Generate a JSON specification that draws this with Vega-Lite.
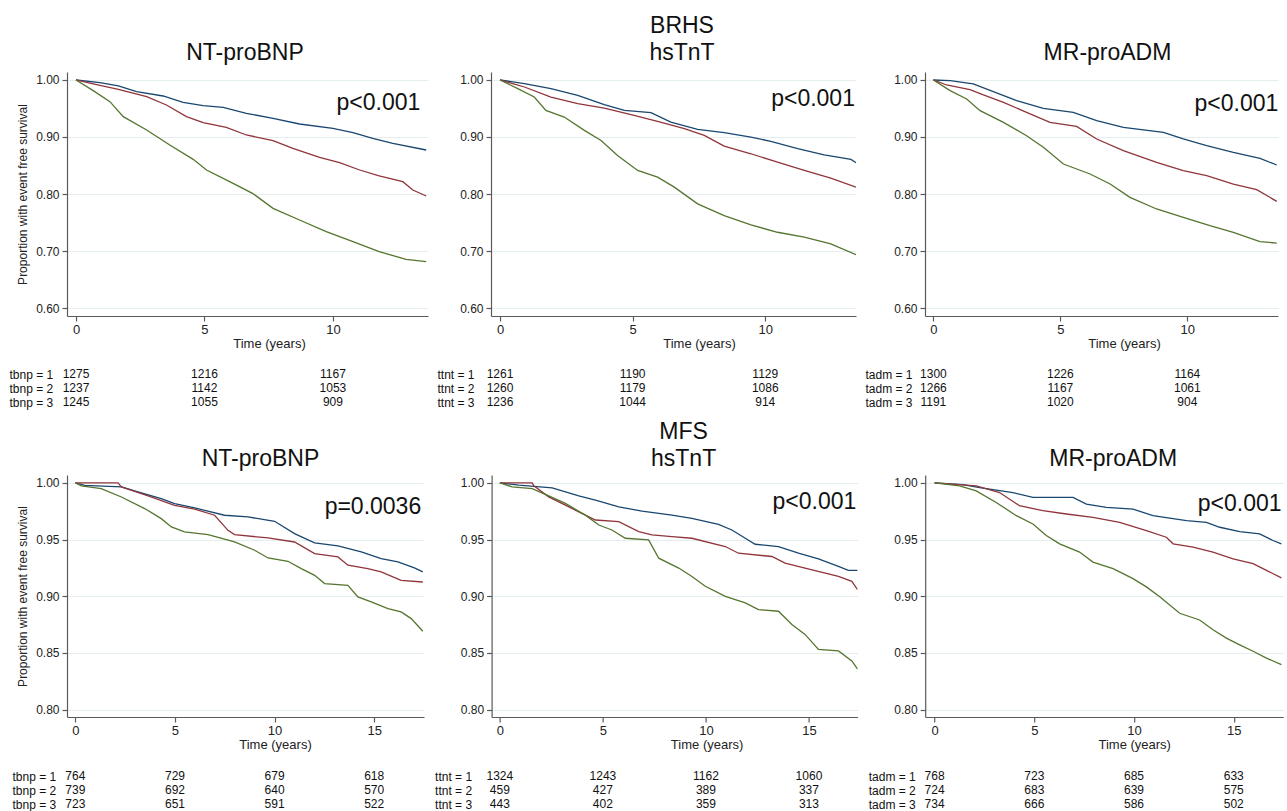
{
"$schema": "https://vega.github.io/schema/vega-lite/v6.json",
"background": "white",
"padding": {"left": 9, "top": 15, "right": 0, "bottom": 0},
"config": {
  "view": {"stroke": null},
  "font": "Liberation Sans",
  "axis": {"labelColor": "#222", "titleColor": "#222", "domainColor": "#5a5a5a", "tickColor": "#5a5a5a", "gridColor": "#e4eef0", "gridWidth": 1.2, "titleFontWeight": "normal", "domainWidth": 1.2, "tickWidth": 1.2, "labelFont": "Liberation Sans", "titleFont": "Liberation Sans"},
  "title": {"fontSize": 23, "fontWeight": "normal", "color": "#111", "font": "Liberation Sans"}
},
"datasets": {
"km": [
{"p":1,"g":1,"t":0,"s":1},{"p":1,"g":1,"t":0.93,"s":0.9953},{"p":1,"g":1,"t":1.65,"s":0.9895},{"p":1,"g":1,"t":2.36,"s":0.9795},{"p":1,"g":1,"t":3.39,"s":0.9719},{"p":1,"g":1,"t":4.17,"s":0.9608},{"p":1,"g":1,"t":4.95,"s":0.955},{"p":1,"g":1,"t":5.73,"s":0.952},{"p":1,"g":1,"t":6.63,"s":0.9415},{"p":1,"g":1,"t":7.67,"s":0.9327},{"p":1,"g":1,"t":8.7,"s":0.9228},{"p":1,"g":1,"t":10.0,"s":0.9152},{"p":1,"g":1,"t":10.78,"s":0.9076},{"p":1,"g":1,"t":11.55,"s":0.8977},{"p":1,"g":1,"t":12.33,"s":0.8889},{"p":1,"g":1,"t":13.63,"s":0.8772},
{"p":1,"g":2,"t":0,"s":1},{"p":1,"g":2,"t":0.67,"s":0.993},{"p":1,"g":2,"t":1.65,"s":0.9836},{"p":1,"g":2,"t":2.75,"s":0.9708},{"p":1,"g":2,"t":3.52,"s":0.9561},{"p":1,"g":2,"t":4.3,"s":0.9357},{"p":1,"g":2,"t":4.95,"s":0.9251},{"p":1,"g":2,"t":5.85,"s":0.917},{"p":1,"g":2,"t":6.63,"s":0.9035},{"p":1,"g":2,"t":7.67,"s":0.8936},{"p":1,"g":2,"t":8.44,"s":0.8801},{"p":1,"g":2,"t":9.48,"s":0.8643},{"p":1,"g":2,"t":10.26,"s":0.855},{"p":1,"g":2,"t":11.04,"s":0.8421},{"p":1,"g":2,"t":11.8,"s":0.8316},{"p":1,"g":2,"t":12.72,"s":0.8216},{"p":1,"g":2,"t":13.11,"s":0.807},{"p":1,"g":2,"t":13.63,"s":0.7965},
{"p":1,"g":3,"t":0,"s":1},{"p":1,"g":3,"t":0.67,"s":0.9813},{"p":1,"g":3,"t":1.32,"s":0.962},{"p":1,"g":3,"t":1.84,"s":0.9357},{"p":1,"g":3,"t":2.75,"s":0.9123},{"p":1,"g":3,"t":3.65,"s":0.886},{"p":1,"g":3,"t":4.56,"s":0.8608},{"p":1,"g":3,"t":5.08,"s":0.8421},{"p":1,"g":3,"t":5.98,"s":0.8216},{"p":1,"g":3,"t":6.87,"s":0.8012},{"p":1,"g":3,"t":7.67,"s":0.7749},{"p":1,"g":3,"t":8.7,"s":0.7544},{"p":1,"g":3,"t":9.74,"s":0.7339},{"p":1,"g":3,"t":10.78,"s":0.7164},{"p":1,"g":3,"t":11.8,"s":0.6988},{"p":1,"g":3,"t":12.85,"s":0.6854},{"p":1,"g":3,"t":13.63,"s":0.6813},
{"p":2,"g":1,"t":0,"s":1},{"p":2,"g":1,"t":0.92,"s":0.9936},{"p":2,"g":1,"t":1.92,"s":0.9848},{"p":2,"g":1,"t":2.93,"s":0.9731},{"p":2,"g":1,"t":3.93,"s":0.9567},{"p":2,"g":1,"t":4.69,"s":0.9467},{"p":2,"g":1,"t":5.69,"s":0.9426},{"p":2,"g":1,"t":6.44,"s":0.9262},{"p":2,"g":1,"t":7.45,"s":0.9133},{"p":2,"g":1,"t":8.45,"s":0.9075},{"p":2,"g":1,"t":9.46,"s":0.8999},{"p":2,"g":1,"t":10.21,"s":0.8922},{"p":2,"g":1,"t":11.22,"s":0.8794},{"p":2,"g":1,"t":12.22,"s":0.8688},{"p":2,"g":1,"t":13.23,"s":0.8606},{"p":2,"g":1,"t":13.42,"s":0.8548},
{"p":2,"g":2,"t":0,"s":1},{"p":2,"g":2,"t":0.92,"s":0.9877},{"p":2,"g":2,"t":1.92,"s":0.9701},{"p":2,"g":2,"t":2.93,"s":0.9584},{"p":2,"g":2,"t":3.93,"s":0.9508},{"p":2,"g":2,"t":4.94,"s":0.9391},{"p":2,"g":2,"t":5.94,"s":0.9274},{"p":2,"g":2,"t":6.95,"s":0.9145},{"p":2,"g":2,"t":7.7,"s":0.9028},{"p":2,"g":2,"t":8.45,"s":0.884},{"p":2,"g":2,"t":9.46,"s":0.8706},{"p":2,"g":2,"t":10.46,"s":0.8559},{"p":2,"g":2,"t":11.47,"s":0.8413},{"p":2,"g":2,"t":12.47,"s":0.8278},{"p":2,"g":2,"t":13.42,"s":0.812},
{"p":2,"g":3,"t":0,"s":1},{"p":2,"g":3,"t":0.67,"s":0.9848},{"p":2,"g":3,"t":1.29,"s":0.9701},{"p":2,"g":3,"t":1.73,"s":0.9467},{"p":2,"g":3,"t":2.42,"s":0.935},{"p":2,"g":3,"t":3.18,"s":0.9116},{"p":2,"g":3,"t":3.81,"s":0.894},{"p":2,"g":3,"t":4.43,"s":0.8676},{"p":2,"g":3,"t":5.19,"s":0.8413},{"p":2,"g":3,"t":5.94,"s":0.8296},{"p":2,"g":3,"t":6.57,"s":0.812},{"p":2,"g":3,"t":7.45,"s":0.7827},{"p":2,"g":3,"t":8.45,"s":0.7622},{"p":2,"g":3,"t":9.46,"s":0.7458},{"p":2,"g":3,"t":10.46,"s":0.7329},{"p":2,"g":3,"t":11.47,"s":0.7242},{"p":2,"g":3,"t":12.47,"s":0.7124},{"p":2,"g":3,"t":13.42,"s":0.6937},
{"p":3,"g":1,"t":0,"s":1},{"p":3,"g":1,"t":0.66,"s":0.9988},{"p":3,"g":1,"t":1.57,"s":0.993},{"p":3,"g":1,"t":2.36,"s":0.9795},{"p":3,"g":1,"t":3.28,"s":0.9637},{"p":3,"g":1,"t":4.33,"s":0.9503},{"p":3,"g":1,"t":5.51,"s":0.9433},{"p":3,"g":1,"t":6.43,"s":0.9287},{"p":3,"g":1,"t":7.48,"s":0.917},{"p":3,"g":1,"t":9.06,"s":0.9082},{"p":3,"g":1,"t":9.84,"s":0.8965},{"p":3,"g":1,"t":10.76,"s":0.8848},{"p":3,"g":1,"t":11.81,"s":0.8731},{"p":3,"g":1,"t":12.86,"s":0.8626},{"p":3,"g":1,"t":13.52,"s":0.8509},
{"p":3,"g":2,"t":0,"s":1},{"p":3,"g":2,"t":0.52,"s":0.9912},{"p":3,"g":2,"t":1.44,"s":0.983},{"p":3,"g":2,"t":1.97,"s":0.9737},{"p":3,"g":2,"t":2.76,"s":0.9608},{"p":3,"g":2,"t":3.67,"s":0.9433},{"p":3,"g":2,"t":4.59,"s":0.9257},{"p":3,"g":2,"t":5.64,"s":0.9187},{"p":3,"g":2,"t":6.43,"s":0.8965},{"p":3,"g":2,"t":7.48,"s":0.876},{"p":3,"g":2,"t":8.79,"s":0.8556},{"p":3,"g":2,"t":9.84,"s":0.8409},{"p":3,"g":2,"t":10.76,"s":0.8322},{"p":3,"g":2,"t":11.81,"s":0.8175},{"p":3,"g":2,"t":12.73,"s":0.8076},{"p":3,"g":2,"t":13.25,"s":0.7942},{"p":3,"g":2,"t":13.52,"s":0.7871},
{"p":3,"g":3,"t":0,"s":1},{"p":3,"g":3,"t":0.66,"s":0.9813},{"p":3,"g":3,"t":1.31,"s":0.9667},{"p":3,"g":3,"t":1.84,"s":0.9462},{"p":3,"g":3,"t":2.76,"s":0.9257},{"p":3,"g":3,"t":3.67,"s":0.9023},{"p":3,"g":3,"t":4.33,"s":0.8819},{"p":3,"g":3,"t":5.12,"s":0.8526},{"p":3,"g":3,"t":6.17,"s":0.8351},{"p":3,"g":3,"t":6.96,"s":0.8175},{"p":3,"g":3,"t":7.74,"s":0.7942},{"p":3,"g":3,"t":8.79,"s":0.7737},{"p":3,"g":3,"t":9.84,"s":0.7591},{"p":3,"g":3,"t":10.89,"s":0.7444},{"p":3,"g":3,"t":11.81,"s":0.7327},{"p":3,"g":3,"t":12.86,"s":0.7164},{"p":3,"g":3,"t":13.52,"s":0.714},
{"p":4,"g":1,"t":0,"s":1},{"p":4,"g":1,"t":0.47,"s":0.9979},{"p":4,"g":1,"t":2.31,"s":0.9965},{"p":4,"g":1,"t":3.14,"s":0.9921},{"p":4,"g":1,"t":4.31,"s":0.9862},{"p":4,"g":1,"t":4.98,"s":0.9818},{"p":4,"g":1,"t":5.99,"s":0.9779},{"p":4,"g":1,"t":7.49,"s":0.9715},{"p":4,"g":1,"t":8.66,"s":0.97},{"p":4,"g":1,"t":10.0,"s":0.9662},{"p":4,"g":1,"t":11.0,"s":0.9553},{"p":4,"g":1,"t":12.01,"s":0.9471},{"p":4,"g":1,"t":13.18,"s":0.9444},{"p":4,"g":1,"t":14.35,"s":0.9391},{"p":4,"g":1,"t":15.35,"s":0.9332},{"p":4,"g":1,"t":16.19,"s":0.9303},{"p":4,"g":1,"t":17.02,"s":0.925},{"p":4,"g":1,"t":17.44,"s":0.9215},
{"p":4,"g":2,"t":0,"s":1},{"p":4,"g":2,"t":2.14,"s":1},{"p":4,"g":2,"t":2.31,"s":0.9965},{"p":4,"g":2,"t":3.65,"s":0.9885},{"p":4,"g":2,"t":4.98,"s":0.9803},{"p":4,"g":2,"t":5.99,"s":0.9768},{"p":4,"g":2,"t":6.99,"s":0.9715},{"p":4,"g":2,"t":7.66,"s":0.9582},{"p":4,"g":2,"t":7.99,"s":0.9544},{"p":4,"g":2,"t":9.67,"s":0.9515},{"p":4,"g":2,"t":11.0,"s":0.9479},{"p":4,"g":2,"t":12.01,"s":0.9376},{"p":4,"g":2,"t":13.18,"s":0.9347},{"p":4,"g":2,"t":13.68,"s":0.9274},{"p":4,"g":2,"t":14.68,"s":0.9244},{"p":4,"g":2,"t":15.35,"s":0.9215},{"p":4,"g":2,"t":16.35,"s":0.9141},{"p":4,"g":2,"t":17.44,"s":0.9126},
{"p":4,"g":3,"t":0,"s":1},{"p":4,"g":3,"t":0.3,"s":0.9974},{"p":4,"g":3,"t":1.3,"s":0.995},{"p":4,"g":3,"t":2.31,"s":0.9876},{"p":4,"g":3,"t":3.48,"s":0.9774},{"p":4,"g":3,"t":4.31,"s":0.9685},{"p":4,"g":3,"t":4.82,"s":0.9612},{"p":4,"g":3,"t":5.48,"s":0.9568},{"p":4,"g":3,"t":6.66,"s":0.9544},{"p":4,"g":3,"t":7.99,"s":0.9479},{"p":4,"g":3,"t":9.0,"s":0.9406},{"p":4,"g":3,"t":9.67,"s":0.9338},{"p":4,"g":3,"t":10.67,"s":0.9309},{"p":4,"g":3,"t":11.34,"s":0.9244},{"p":4,"g":3,"t":12.01,"s":0.9185},{"p":4,"g":3,"t":12.51,"s":0.9112},{"p":4,"g":3,"t":13.68,"s":0.9097},{"p":4,"g":3,"t":14.18,"s":0.8994},{"p":4,"g":3,"t":14.85,"s":0.895},{"p":4,"g":3,"t":15.69,"s":0.8891},{"p":4,"g":3,"t":16.35,"s":0.8862},{"p":4,"g":3,"t":16.86,"s":0.8803},{"p":4,"g":3,"t":17.44,"s":0.8691},
{"p":5,"g":1,"t":0,"s":1},{"p":5,"g":1,"t":0.92,"s":0.998},{"p":5,"g":1,"t":2.54,"s":0.9956},{"p":5,"g":1,"t":3.83,"s":0.9886},{"p":5,"g":1,"t":4.64,"s":0.9848},{"p":5,"g":1,"t":5.77,"s":0.9789},{"p":5,"g":1,"t":6.9,"s":0.9751},{"p":5,"g":1,"t":8.35,"s":0.9716},{"p":5,"g":1,"t":9.32,"s":0.9687},{"p":5,"g":1,"t":10.61,"s":0.9635},{"p":5,"g":1,"t":11.26,"s":0.9585},{"p":5,"g":1,"t":11.91,"s":0.9512},{"p":5,"g":1,"t":12.39,"s":0.9459},{"p":5,"g":1,"t":13.52,"s":0.9439},{"p":5,"g":1,"t":14.49,"s":0.938},{"p":5,"g":1,"t":15.46,"s":0.933},{"p":5,"g":1,"t":16.43,"s":0.9263},{"p":5,"g":1,"t":16.91,"s":0.9228},{"p":5,"g":1,"t":17.36,"s":0.9228},
{"p":5,"g":2,"t":0,"s":1},{"p":5,"g":2,"t":1.57,"s":1},{"p":5,"g":2,"t":1.65,"s":0.9974},{"p":5,"g":2,"t":2.37,"s":0.9877},{"p":5,"g":2,"t":3.18,"s":0.9804},{"p":5,"g":2,"t":4.15,"s":0.9716},{"p":5,"g":2,"t":4.64,"s":0.9673},{"p":5,"g":2,"t":5.77,"s":0.9658},{"p":5,"g":2,"t":6.74,"s":0.957},{"p":5,"g":2,"t":7.38,"s":0.9541},{"p":5,"g":2,"t":8.35,"s":0.9526},{"p":5,"g":2,"t":9.32,"s":0.9512},{"p":5,"g":2,"t":10.94,"s":0.9439},{"p":5,"g":2,"t":11.58,"s":0.938},{"p":5,"g":2,"t":13.2,"s":0.9351},{"p":5,"g":2,"t":13.84,"s":0.9292},{"p":5,"g":2,"t":14.81,"s":0.9249},{"p":5,"g":2,"t":16.43,"s":0.9175},{"p":5,"g":2,"t":17.08,"s":0.9132},{"p":5,"g":2,"t":17.36,"s":0.9058},
{"p":5,"g":3,"t":0,"s":1},{"p":5,"g":3,"t":0.6,"s":0.9965},{"p":5,"g":3,"t":1.57,"s":0.995},{"p":5,"g":3,"t":2.29,"s":0.9892},{"p":5,"g":3,"t":3.18,"s":0.9819},{"p":5,"g":3,"t":4.15,"s":0.9716},{"p":5,"g":3,"t":4.8,"s":0.9629},{"p":5,"g":3,"t":5.44,"s":0.9585},{"p":5,"g":3,"t":6.09,"s":0.9512},{"p":5,"g":3,"t":7.22,"s":0.9497},{"p":5,"g":3,"t":7.71,"s":0.9336},{"p":5,"g":3,"t":8.68,"s":0.9249},{"p":5,"g":3,"t":9.32,"s":0.9175},{"p":5,"g":3,"t":9.97,"s":0.9088},{"p":5,"g":3,"t":10.94,"s":0.9},{"p":5,"g":3,"t":11.91,"s":0.8942},{"p":5,"g":3,"t":12.55,"s":0.8883},{"p":5,"g":3,"t":13.52,"s":0.8868},{"p":5,"g":3,"t":14.17,"s":0.8751},{"p":5,"g":3,"t":14.81,"s":0.8664},{"p":5,"g":3,"t":15.46,"s":0.8532},{"p":5,"g":3,"t":16.43,"s":0.8518},{"p":5,"g":3,"t":17.08,"s":0.843},{"p":5,"g":3,"t":17.36,"s":0.8357},
{"p":6,"g":1,"t":0,"s":1},{"p":6,"g":1,"t":1.42,"s":0.9985},{"p":6,"g":1,"t":2.26,"s":0.9959},{"p":6,"g":1,"t":3.93,"s":0.9915},{"p":6,"g":1,"t":4.93,"s":0.9872},{"p":6,"g":1,"t":6.94,"s":0.9872},{"p":6,"g":1,"t":7.61,"s":0.9813},{"p":6,"g":1,"t":8.61,"s":0.9784},{"p":6,"g":1,"t":9.95,"s":0.9769},{"p":6,"g":1,"t":10.95,"s":0.9711},{"p":6,"g":1,"t":12.63,"s":0.9667},{"p":6,"g":1,"t":13.63,"s":0.9653},{"p":6,"g":1,"t":14.3,"s":0.9609},{"p":6,"g":1,"t":15.3,"s":0.9571},{"p":6,"g":1,"t":16.3,"s":0.955},{"p":6,"g":1,"t":16.97,"s":0.9492},{"p":6,"g":1,"t":17.39,"s":0.9463},
{"p":6,"g":2,"t":0,"s":1},{"p":6,"g":2,"t":2.09,"s":0.9974},{"p":6,"g":2,"t":3.26,"s":0.9915},{"p":6,"g":2,"t":4.26,"s":0.9799},{"p":6,"g":2,"t":5.43,"s":0.9755},{"p":6,"g":2,"t":6.61,"s":0.9726},{"p":6,"g":2,"t":7.94,"s":0.9696},{"p":6,"g":2,"t":9.28,"s":0.9653},{"p":6,"g":2,"t":10.62,"s":0.958},{"p":6,"g":2,"t":11.62,"s":0.9521},{"p":6,"g":2,"t":11.96,"s":0.9463},{"p":6,"g":2,"t":12.96,"s":0.9434},{"p":6,"g":2,"t":13.96,"s":0.939},{"p":6,"g":2,"t":14.97,"s":0.9331},{"p":6,"g":2,"t":15.97,"s":0.9288},{"p":6,"g":2,"t":16.64,"s":0.9229},{"p":6,"g":2,"t":17.39,"s":0.9162},
{"p":6,"g":3,"t":0,"s":1},{"p":6,"g":3,"t":1.25,"s":0.9974},{"p":6,"g":3,"t":2.09,"s":0.993},{"p":6,"g":3,"t":3.09,"s":0.9828},{"p":6,"g":3,"t":4.1,"s":0.9711},{"p":6,"g":3,"t":4.93,"s":0.9638},{"p":6,"g":3,"t":5.6,"s":0.9536},{"p":6,"g":3,"t":6.27,"s":0.9463},{"p":6,"g":3,"t":7.27,"s":0.939},{"p":6,"g":3,"t":7.94,"s":0.9302},{"p":6,"g":3,"t":8.95,"s":0.9244},{"p":6,"g":3,"t":9.95,"s":0.9156},{"p":6,"g":3,"t":10.62,"s":0.9083},{"p":6,"g":3,"t":11.29,"s":0.8996},{"p":6,"g":3,"t":12.29,"s":0.885},{"p":6,"g":3,"t":13.29,"s":0.8791},{"p":6,"g":3,"t":13.96,"s":0.8704},{"p":6,"g":3,"t":14.63,"s":0.8631},{"p":6,"g":3,"t":15.3,"s":0.8572},{"p":6,"g":3,"t":15.97,"s":0.8515},{"p":6,"g":3,"t":16.64,"s":0.8455},{"p":6,"g":3,"t":17.39,"s":0.8397}
],
"pv": [
{"p":1,"t":13.40,"s":0.9474,"label":"p<0.001"},{"p":2,"t":13.38,"s":0.9545,"label":"p<0.001"},{"p":3,"t":13.58,"s":0.9464,"label":"p<0.001"},
{"p":4,"t":17.36,"s":0.973,"label":"p=0.0036"},{"p":5,"t":17.3,"s":0.9769,"label":"p<0.001"},{"p":6,"t":17.4,"s":0.9755,"label":"p<0.001"}
],
"risk": [
{"p":1,"lab":"tbnp = 1","t":0,"n":1275},{"p":1,"lab":"tbnp = 2","t":0,"n":1237},{"p":1,"lab":"tbnp = 3","t":0,"n":1245},
{"p":1,"lab":"tbnp = 1","t":5,"n":1216},{"p":1,"lab":"tbnp = 2","t":5,"n":1142},{"p":1,"lab":"tbnp = 3","t":5,"n":1055},
{"p":1,"lab":"tbnp = 1","t":10,"n":1167},{"p":1,"lab":"tbnp = 2","t":10,"n":1053},{"p":1,"lab":"tbnp = 3","t":10,"n":909},
{"p":2,"lab":"ttnt = 1","t":0,"n":1261},{"p":2,"lab":"ttnt = 2","t":0,"n":1260},{"p":2,"lab":"ttnt = 3","t":0,"n":1236},
{"p":2,"lab":"ttnt = 1","t":5,"n":1190},{"p":2,"lab":"ttnt = 2","t":5,"n":1179},{"p":2,"lab":"ttnt = 3","t":5,"n":1044},
{"p":2,"lab":"ttnt = 1","t":10,"n":1129},{"p":2,"lab":"ttnt = 2","t":10,"n":1086},{"p":2,"lab":"ttnt = 3","t":10,"n":914},
{"p":3,"lab":"tadm = 1","t":0,"n":1300},{"p":3,"lab":"tadm = 2","t":0,"n":1266},{"p":3,"lab":"tadm = 3","t":0,"n":1191},
{"p":3,"lab":"tadm = 1","t":5,"n":1226},{"p":3,"lab":"tadm = 2","t":5,"n":1167},{"p":3,"lab":"tadm = 3","t":5,"n":1020},
{"p":3,"lab":"tadm = 1","t":10,"n":1164},{"p":3,"lab":"tadm = 2","t":10,"n":1061},{"p":3,"lab":"tadm = 3","t":10,"n":904},
{"p":4,"lab":"tbnp = 1","t":0,"n":764},{"p":4,"lab":"tbnp = 2","t":0,"n":739},{"p":4,"lab":"tbnp = 3","t":0,"n":723},
{"p":4,"lab":"tbnp = 1","t":5,"n":729},{"p":4,"lab":"tbnp = 2","t":5,"n":692},{"p":4,"lab":"tbnp = 3","t":5,"n":651},
{"p":4,"lab":"tbnp = 1","t":10,"n":679},{"p":4,"lab":"tbnp = 2","t":10,"n":640},{"p":4,"lab":"tbnp = 3","t":10,"n":591},
{"p":4,"lab":"tbnp = 1","t":15,"n":618},{"p":4,"lab":"tbnp = 2","t":15,"n":570},{"p":4,"lab":"tbnp = 3","t":15,"n":522},
{"p":5,"lab":"ttnt = 1","t":0,"n":1324},{"p":5,"lab":"ttnt = 2","t":0,"n":459},{"p":5,"lab":"ttnt = 3","t":0,"n":443},
{"p":5,"lab":"ttnt = 1","t":5,"n":1243},{"p":5,"lab":"ttnt = 2","t":5,"n":427},{"p":5,"lab":"ttnt = 3","t":5,"n":402},
{"p":5,"lab":"ttnt = 1","t":10,"n":1162},{"p":5,"lab":"ttnt = 2","t":10,"n":389},{"p":5,"lab":"ttnt = 3","t":10,"n":359},
{"p":5,"lab":"ttnt = 1","t":15,"n":1060},{"p":5,"lab":"ttnt = 2","t":15,"n":337},{"p":5,"lab":"ttnt = 3","t":15,"n":313},
{"p":6,"lab":"tadm = 1","t":0,"n":768},{"p":6,"lab":"tadm = 2","t":0,"n":724},{"p":6,"lab":"tadm = 3","t":0,"n":734},
{"p":6,"lab":"tadm = 1","t":5,"n":723},{"p":6,"lab":"tadm = 2","t":5,"n":683},{"p":6,"lab":"tadm = 3","t":5,"n":666},
{"p":6,"lab":"tadm = 1","t":10,"n":685},{"p":6,"lab":"tadm = 2","t":10,"n":639},{"p":6,"lab":"tadm = 3","t":10,"n":586},
{"p":6,"lab":"tadm = 1","t":15,"n":633},{"p":6,"lab":"tadm = 2","t":15,"n":575},{"p":6,"lab":"tadm = 3","t":15,"n":502}
]
},
"spacing": 12,
"vconcat": [
{
"spacing": 9,
"hconcat": [
{"spacing": 17, "vconcat": [
 {"width": 361, "height": 244, "title": {"text": "NT-proBNP", "offset": 7, "dx": -2.5},
  "layer": [
   {"data": {"name": "km"}, "transform": [{"filter": "datum.p == 1"}], "mark": {"type": "line", "strokeWidth": 1.3, "clip": true},
    "encoding": {
     "x": {"field": "t", "type": "quantitative", "scale": {"domain": [-0.35, 13.7], "nice": false, "zero": false}, "axis": {"values": [0, 5, 10], "title": "Time (years)", "titleFontSize": 13, "labelFontSize": 13, "grid": false, "tickSize": 5, "labelPadding": 2, "titlePadding": 1, "titleX": 202, "labelFlush": false}},
     "y": {"field": "s", "type": "quantitative", "scale": {"domain": [0.586, 1.014], "nice": false, "zero": false}, "axis": {"values": [0.6, 0.7, 0.8, 0.9, 1.0], "format": ".2f", "grid": true, "labelFontSize": 12, "tickSize": 5, "labelPadding": 3, "title": "Proportion with event free survival", "titleFontSize": 12, "titlePadding": 6}},
     "color": {"field": "g", "type": "nominal", "scale": {"domain": [1, 2, 3], "range": ["#1a476f", "#90353b", "#55752f"]}, "legend": null}}},
   {"data": {"name": "pv"}, "transform": [{"filter": "datum.p == 1"}], "mark": {"type": "text", "align": "right", "baseline": "alphabetic", "fontSize": 23, "font": "Liberation Sans", "color": "#111"},
    "encoding": {"x": {"field": "t", "type": "quantitative"}, "y": {"field": "s", "type": "quantitative"}, "text": {"field": "label"}}}
  ]},
 {"width": 361, "height": 42, "data": {"name": "risk"}, "transform": [{"filter": "datum.p == 1"}],
  "mark": {"type": "text", "fontSize": 12, "font": "Liberation Sans", "color": "#111"},
  "encoding": {
   "x": {"field": "t", "type": "quantitative", "scale": {"domain": [-0.35, 13.7], "nice": false, "zero": false}, "axis": null},
   "y": {"field": "lab", "type": "ordinal", "title": null, "axis": {"domain": false, "ticks": false, "tickSize": 0, "labelAlign": "left", "labelPadding": 58, "labelFontSize": 12, "labelColor": "#111"}},
   "text": {"field": "n", "type": "quantitative"}}}
]},
{"spacing": 17, "vconcat": [
 {"width": 365, "height": 244, "title": {"text": ["BRHS", "hsTnT"], "lineHeight": 27, "offset": 7, "dx": 8.5},
  "layer": [
   {"data": {"name": "km"}, "transform": [{"filter": "datum.p == 2"}], "mark": {"type": "line", "strokeWidth": 1.3, "clip": true},
    "encoding": {
     "x": {"field": "t", "type": "quantitative", "scale": {"domain": [-0.34, 13.42], "nice": false, "zero": false}, "axis": {"values": [0, 5, 10], "title": "Time (years)", "titleFontSize": 13, "labelFontSize": 13, "grid": false, "tickSize": 5, "labelPadding": 2, "titlePadding": 1, "titleX": 208, "labelFlush": false}},
     "y": {"field": "s", "type": "quantitative", "scale": {"domain": [0.586, 1.014], "nice": false, "zero": false}, "axis": {"values": [0.6, 0.7, 0.8, 0.9, 1.0], "format": ".2f", "grid": true, "labelFontSize": 12, "tickSize": 5, "labelPadding": 3, "title": null}},
     "color": {"field": "g", "type": "nominal", "scale": {"domain": [1, 2, 3], "range": ["#1a476f", "#90353b", "#55752f"]}, "legend": null}}},
   {"data": {"name": "pv"}, "transform": [{"filter": "datum.p == 2"}], "mark": {"type": "text", "align": "right", "baseline": "alphabetic", "fontSize": 23, "font": "Liberation Sans", "color": "#111"},
    "encoding": {"x": {"field": "t", "type": "quantitative"}, "y": {"field": "s", "type": "quantitative"}, "text": {"field": "label"}}}
  ]},
 {"width": 365, "height": 42, "data": {"name": "risk"}, "transform": [{"filter": "datum.p == 2"}],
  "mark": {"type": "text", "fontSize": 12, "font": "Liberation Sans", "color": "#111"},
  "encoding": {
   "x": {"field": "t", "type": "quantitative", "scale": {"domain": [-0.34, 13.42], "nice": false, "zero": false}, "axis": null},
   "y": {"field": "lab", "type": "ordinal", "title": null, "axis": {"domain": false, "ticks": false, "tickSize": 0, "labelAlign": "left", "labelPadding": 54, "labelFontSize": 12, "labelColor": "#111"}},
   "text": {"field": "n", "type": "quantitative"}}}
]},
{"spacing": 17, "vconcat": [
 {"width": 353, "height": 244, "title": {"text": "MR-proADM", "offset": 7, "dx": 6},
  "layer": [
   {"data": {"name": "km"}, "transform": [{"filter": "datum.p == 3"}], "mark": {"type": "line", "strokeWidth": 1.3, "clip": true},
    "encoding": {
     "x": {"field": "t", "type": "quantitative", "scale": {"domain": [-0.33, 13.57], "nice": false, "zero": false}, "axis": {"values": [0, 5, 10], "title": "Time (years)", "titleFontSize": 13, "labelFontSize": 13, "grid": false, "tickSize": 5, "labelPadding": 2, "titlePadding": 1, "titleX": 199, "labelFlush": false}},
     "y": {"field": "s", "type": "quantitative", "scale": {"domain": [0.586, 1.014], "nice": false, "zero": false}, "axis": {"values": [0.6, 0.7, 0.8, 0.9, 1.0], "format": ".2f", "grid": true, "labelFontSize": 12, "tickSize": 5, "labelPadding": 3, "title": null}},
     "color": {"field": "g", "type": "nominal", "scale": {"domain": [1, 2, 3], "range": ["#1a476f", "#90353b", "#55752f"]}, "legend": null}}},
   {"data": {"name": "pv"}, "transform": [{"filter": "datum.p == 3"}], "mark": {"type": "text", "align": "right", "baseline": "alphabetic", "fontSize": 23, "font": "Liberation Sans", "color": "#111"},
    "encoding": {"x": {"field": "t", "type": "quantitative"}, "y": {"field": "s", "type": "quantitative"}, "text": {"field": "label"}}}
  ]},
 {"width": 353, "height": 42, "data": {"name": "risk"}, "transform": [{"filter": "datum.p == 3"}],
  "mark": {"type": "text", "fontSize": 12, "font": "Liberation Sans", "color": "#111"},
  "encoding": {
   "x": {"field": "t", "type": "quantitative", "scale": {"domain": [-0.33, 13.57], "nice": false, "zero": false}, "axis": null},
   "y": {"field": "lab", "type": "ordinal", "title": null, "axis": {"domain": false, "ticks": false, "tickSize": 0, "labelAlign": "left", "labelPadding": 60, "labelFontSize": 12, "labelColor": "#111"}},
   "text": {"field": "n", "type": "quantitative"}}}
]}
]
},
{
"spacing": 10.6,
"hconcat": [
{"spacing": 18, "vconcat": [
 {"width": 357, "height": 242, "title": {"text": "NT-proBNP", "offset": 4, "dx": 15},
  "layer": [
   {"data": {"name": "km"}, "transform": [{"filter": "datum.p == 4"}], "mark": {"type": "line", "strokeWidth": 1.3, "clip": true},
    "encoding": {
     "x": {"field": "t", "type": "quantitative", "scale": {"domain": [-0.42, 17.5], "nice": false, "zero": false}, "axis": {"values": [0, 5, 10, 15], "title": "Time (years)", "titleFontSize": 13, "labelFontSize": 13, "grid": false, "tickSize": 5, "labelPadding": 2, "titlePadding": 1, "titleX": 208, "labelFlush": false}},
     "y": {"field": "s", "type": "quantitative", "scale": {"domain": [0.7935, 1.007], "nice": false, "zero": false}, "axis": {"values": [0.8, 0.85, 0.9, 0.95, 1.0], "format": ".2f", "grid": true, "labelFontSize": 12, "tickSize": 5, "labelPadding": 3, "title": "Proportion with event free survival", "titleFontSize": 12, "titlePadding": 6}},
     "color": {"field": "g", "type": "nominal", "scale": {"domain": [1, 2, 3], "range": ["#1a476f", "#90353b", "#55752f"]}, "legend": null}}},
   {"data": {"name": "pv"}, "transform": [{"filter": "datum.p == 4"}], "mark": {"type": "text", "align": "right", "baseline": "alphabetic", "fontSize": 23, "font": "Liberation Sans", "color": "#111"},
    "encoding": {"x": {"field": "t", "type": "quantitative"}, "y": {"field": "s", "type": "quantitative"}, "text": {"field": "label"}}}
  ]},
 {"width": 357, "height": 42, "data": {"name": "risk"}, "transform": [{"filter": "datum.p == 4"}],
  "mark": {"type": "text", "fontSize": 12, "font": "Liberation Sans", "color": "#111"},
  "encoding": {
   "x": {"field": "t", "type": "quantitative", "scale": {"domain": [-0.42, 17.5], "nice": false, "zero": false}, "axis": null},
   "y": {"field": "lab", "type": "ordinal", "title": null, "axis": {"domain": false, "ticks": false, "tickSize": 0, "labelAlign": "left", "labelPadding": 55, "labelFontSize": 12, "labelColor": "#111"}},
   "text": {"field": "n", "type": "quantitative"}}}
]},
{"spacing": 18, "vconcat": [
 {"width": 366, "height": 242, "title": {"text": ["MFS", "hsTnT"], "lineHeight": 27, "offset": 4, "dx": 9},
  "layer": [
   {"data": {"name": "km"}, "transform": [{"filter": "datum.p == 5"}], "mark": {"type": "line", "strokeWidth": 1.3, "clip": true},
    "encoding": {
     "x": {"field": "t", "type": "quantitative", "scale": {"domain": [-0.4, 17.36], "nice": false, "zero": false}, "axis": {"values": [0, 5, 10, 15], "title": "Time (years)", "titleFontSize": 13, "labelFontSize": 13, "grid": false, "tickSize": 5, "labelPadding": 2, "titlePadding": 1, "titleX": 215, "labelFlush": false}},
     "y": {"field": "s", "type": "quantitative", "scale": {"domain": [0.7935, 1.007], "nice": false, "zero": false}, "axis": {"values": [0.8, 0.85, 0.9, 0.95, 1.0], "format": ".2f", "grid": true, "labelFontSize": 12, "tickSize": 5, "labelPadding": 3, "title": null}},
     "color": {"field": "g", "type": "nominal", "scale": {"domain": [1, 2, 3], "range": ["#1a476f", "#90353b", "#55752f"]}, "legend": null}}},
   {"data": {"name": "pv"}, "transform": [{"filter": "datum.p == 5"}], "mark": {"type": "text", "align": "right", "baseline": "alphabetic", "fontSize": 23, "font": "Liberation Sans", "color": "#111"},
    "encoding": {"x": {"field": "t", "type": "quantitative"}, "y": {"field": "s", "type": "quantitative"}, "text": {"field": "label"}}}
  ]},
 {"width": 366, "height": 42, "data": {"name": "risk"}, "transform": [{"filter": "datum.p == 5"}],
  "mark": {"type": "text", "fontSize": 12, "font": "Liberation Sans", "color": "#111"},
  "encoding": {
   "x": {"field": "t", "type": "quantitative", "scale": {"domain": [-0.4, 17.36], "nice": false, "zero": false}, "axis": null},
   "y": {"field": "lab", "type": "ordinal", "title": null, "axis": {"domain": false, "ticks": false, "tickSize": 0, "labelAlign": "left", "labelPadding": 57, "labelFontSize": 12, "labelColor": "#111"}},
   "text": {"field": "n", "type": "quantitative"}}}
]},
{"spacing": 18, "vconcat": [
 {"width": 358, "height": 242, "title": {"text": "MR-proADM", "offset": 4, "dx": 9},
  "layer": [
   {"data": {"name": "km"}, "transform": [{"filter": "datum.p == 6"}], "mark": {"type": "line", "strokeWidth": 1.3, "clip": true},
    "encoding": {
     "x": {"field": "t", "type": "quantitative", "scale": {"domain": [-0.47, 17.48], "nice": false, "zero": false}, "axis": {"values": [0, 5, 10, 15], "title": "Time (years)", "titleFontSize": 13, "labelFontSize": 13, "grid": false, "tickSize": 5, "labelPadding": 2, "titlePadding": 1, "titleX": 209, "labelFlush": false}},
     "y": {"field": "s", "type": "quantitative", "scale": {"domain": [0.7935, 1.007], "nice": false, "zero": false}, "axis": {"values": [0.8, 0.85, 0.9, 0.95, 1.0], "format": ".2f", "grid": true, "labelFontSize": 12, "tickSize": 5, "labelPadding": 3, "title": null}},
     "color": {"field": "g", "type": "nominal", "scale": {"domain": [1, 2, 3], "range": ["#1a476f", "#90353b", "#55752f"]}, "legend": null}}},
   {"data": {"name": "pv"}, "transform": [{"filter": "datum.p == 6"}], "mark": {"type": "text", "align": "right", "baseline": "alphabetic", "fontSize": 23, "font": "Liberation Sans", "color": "#111"},
    "encoding": {"x": {"field": "t", "type": "quantitative"}, "y": {"field": "s", "type": "quantitative"}, "text": {"field": "label"}}}
  ]},
 {"width": 358, "height": 42, "data": {"name": "risk"}, "transform": [{"filter": "datum.p == 6"}],
  "mark": {"type": "text", "fontSize": 12, "font": "Liberation Sans", "color": "#111"},
  "encoding": {
   "x": {"field": "t", "type": "quantitative", "scale": {"domain": [-0.47, 17.48], "nice": false, "zero": false}, "axis": null},
   "y": {"field": "lab", "type": "ordinal", "title": null, "axis": {"domain": false, "ticks": false, "tickSize": 0, "labelAlign": "left", "labelPadding": 57, "labelFontSize": 12, "labelColor": "#111"}},
   "text": {"field": "n", "type": "quantitative"}}}
]}
]
}
]
}
